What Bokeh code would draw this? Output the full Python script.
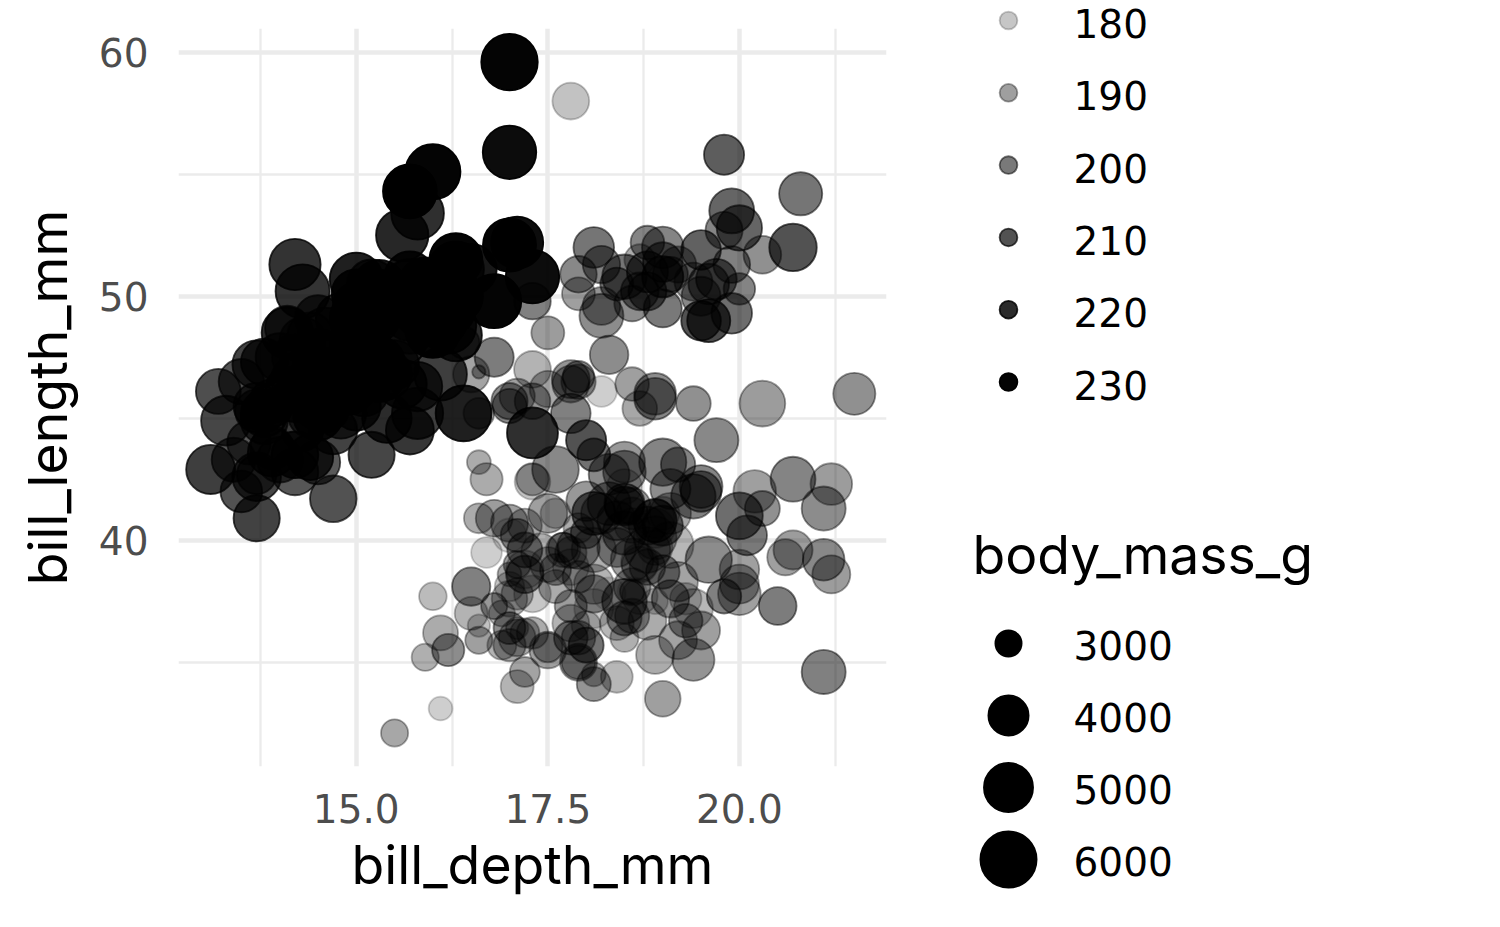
import numpy as np
from bokeh.plotting import figure
from bokeh.layouts import row, column
from bokeh.models import ColumnDataSource, FixedTicker, NumeralTickFormatter, Range1d
from bokeh.core.properties import value
from bokeh.embed import file_html
from bokeh.resources import INLINE

# ---------------- data (Palmer penguins, rows without NA) ----------------
adelie_length = [
    39.1, 39.5, 40.3, 36.7, 39.3, 38.9, 39.2, 34.1, 42.0, 37.8,
    37.8, 41.1, 38.6, 34.6, 36.6, 38.7, 42.5, 34.4, 46.0, 37.8,
    37.7, 35.9, 38.2, 38.8, 35.3, 40.6, 40.5, 37.9, 40.5, 39.5,
    37.2, 39.5, 40.9, 36.4, 39.2, 38.8, 42.2, 37.6, 39.8, 36.5,
    40.8, 36.0, 44.1, 37.0, 39.6, 41.1, 37.5, 36.0, 42.3, 39.6,
    40.1, 35.0, 42.0, 34.5, 41.4, 39.0, 40.6, 36.5, 37.6, 35.7,
    41.3, 37.6, 41.1, 36.4, 41.6, 35.5, 41.1, 35.9, 41.8, 33.5,
    39.7, 39.6, 45.8, 35.5, 42.8, 40.9, 37.2, 36.2, 42.1, 34.6,
    42.9, 36.7, 35.1, 37.3, 41.3, 36.3, 36.9, 38.3, 38.9, 35.7,
    41.1, 34.0, 39.6, 36.2, 40.8, 38.1, 40.3, 33.1, 43.2, 35.0,
    41.0, 37.7, 37.8, 37.9, 39.7, 38.6, 38.2, 38.1, 43.2, 38.1,
    45.6, 39.7, 42.2, 39.6, 42.7, 38.6, 37.3, 35.7, 41.1, 36.2,
    37.7, 40.2, 41.4, 35.2, 40.6, 38.8, 41.5, 39.0, 44.1, 38.5,
    43.1, 36.8, 37.5, 38.1, 41.1, 35.6, 40.2, 37.0, 39.7, 40.2,
    40.6, 32.1, 40.7, 37.3, 39.0, 39.2, 36.6, 36.0, 37.8, 36.0, 41.5,
]
adelie_depth = [
    18.7, 17.4, 18.0, 19.3, 20.6, 17.8, 19.6, 18.1, 20.2, 17.1,
    17.3, 17.6, 21.2, 21.1, 17.8, 19.0, 20.7, 18.4, 21.5, 18.3,
    18.7, 19.2, 18.1, 17.2, 18.9, 18.6, 17.9, 18.6, 18.9, 16.7,
    18.1, 17.8, 18.9, 17.0, 21.1, 20.0, 18.5, 19.3, 19.1, 18.0,
    18.4, 18.5, 19.7, 16.9, 18.8, 19.0, 18.9, 17.9, 21.2, 17.7,
    18.9, 17.9, 19.5, 18.1, 18.6, 17.5, 18.8, 16.6, 19.1, 16.9,
    21.1, 17.0, 18.2, 17.1, 18.0, 16.2, 19.1, 16.6, 19.4, 19.0,
    18.4, 17.2, 18.9, 17.5, 18.5, 16.8, 19.4, 16.1, 19.1, 17.2,
    17.6, 18.8, 19.4, 17.8, 20.3, 19.5, 18.6, 19.2, 18.8, 18.0,
    18.1, 17.1, 18.1, 17.3, 18.9, 18.6, 18.5, 16.1, 18.5, 17.9,
    20.0, 16.0, 20.0, 18.6, 18.9, 17.2, 20.0, 17.0, 19.0, 16.5,
    20.3, 17.7, 19.5, 20.7, 18.3, 17.0, 20.5, 17.0, 18.6, 17.2,
    19.8, 17.0, 18.5, 15.9, 19.0, 17.6, 18.3, 17.1, 18.0, 17.9,
    19.2, 18.5, 18.5, 17.6, 17.5, 17.5, 20.1, 16.5, 17.9, 17.1,
    17.2, 15.5, 17.0, 16.8, 18.7, 18.6, 18.4, 17.8, 18.1, 17.1, 18.5,
]
adelie_flipper = [
    181, 186, 195, 193, 190, 181, 195, 193, 190, 186,
    180, 182, 191, 198, 185, 195, 197, 184, 194, 174,
    180, 189, 185, 180, 187, 183, 187, 172, 180, 178,
    178, 188, 184, 195, 196, 190, 180, 181, 184, 182,
    195, 186, 196, 185, 190, 182, 179, 190, 191, 186,
    188, 190, 200, 187, 191, 186, 193, 181, 194, 185,
    195, 185, 192, 184, 192, 195, 188, 190, 198, 190,
    190, 196, 197, 190, 195, 191, 184, 187, 195, 189,
    196, 187, 193, 191, 194, 190, 189, 189, 190, 202,
    205, 185, 186, 187, 208, 190, 196, 178, 192, 192,
    203, 183, 190, 193, 184, 199, 190, 181, 197, 198,
    191, 193, 197, 191, 196, 188, 199, 189, 189, 187,
    198, 176, 202, 186, 199, 191, 195, 191, 210, 190,
    197, 193, 199, 187, 190, 191, 200, 185, 193, 193,
    187, 188, 190, 192, 185, 190, 184, 195, 193, 187, 201,
]
adelie_mass = [
    3750, 3800, 3250, 3450, 3650, 3625, 4675, 3475, 4250, 3300,
    3700, 3200, 3800, 4400, 3700, 3450, 4500, 3325, 4200, 3400,
    3600, 3800, 3950, 3800, 3800, 3550, 3200, 3150, 3950, 3250,
    3900, 3300, 3900, 3325, 4150, 3950, 3550, 3300, 4650, 3150,
    3900, 3100, 4400, 3000, 4600, 3425, 2975, 3450, 4150, 3500,
    4300, 3450, 4050, 2900, 3700, 3550, 3800, 2850, 3750, 3150,
    4400, 3600, 4050, 2850, 3950, 3350, 4100, 3050, 4450, 3600,
    3900, 3550, 4150, 3700, 4250, 3700, 3900, 3550, 4000, 3200,
    4700, 3800, 4200, 3350, 3550, 3800, 3500, 3950, 3600, 3550,
    4300, 3400, 4450, 3300, 4300, 3700, 4350, 2900, 4100, 3725,
    4725, 3075, 4250, 2925, 3550, 3750, 3900, 3175, 4775, 3825,
    4600, 3200, 4275, 3900, 4075, 2900, 3775, 3350, 3325, 3150,
    3500, 3450, 3875, 3050, 4000, 3275, 4300, 3050, 4000, 3325,
    3500, 3500, 4475, 3425, 3900, 3175, 3975, 3400, 4250, 3400,
    3475, 3050, 3725, 3000, 3650, 4250, 3475, 3450, 3750, 3700, 4000,
]

gentoo_length = [
    46.1, 50.0, 48.7, 50.0, 47.6, 46.5, 45.4, 46.7, 43.3, 46.8,
    40.9, 49.0, 45.5, 48.4, 45.8, 49.3, 42.0, 49.2, 46.2, 48.7,
    50.2, 45.1, 46.5, 46.3, 42.9, 46.1, 44.5, 47.8, 48.2, 50.0,
    47.3, 42.8, 45.1, 59.6, 49.1, 48.4, 42.6, 44.4, 44.0, 48.7,
    42.7, 49.6, 45.3, 49.6, 50.5, 43.6, 45.5, 50.5, 44.9, 45.2,
    46.6, 48.5, 45.1, 50.1, 46.5, 45.0, 43.8, 45.5, 43.2, 50.4,
    45.3, 46.2, 45.7, 54.3, 45.8, 49.8, 46.2, 49.5, 43.5, 50.7,
    47.7, 46.4, 48.2, 46.5, 46.4, 48.6, 47.5, 51.1, 45.2, 45.2,
    49.1, 52.5, 47.4, 50.0, 44.9, 50.8, 43.4, 51.3, 47.5, 52.1,
    47.5, 52.2, 45.5, 49.5, 44.5, 50.8, 49.4, 46.9, 48.4, 51.1,
    48.5, 55.9, 47.2, 49.1, 47.3, 46.8, 41.7, 53.4, 43.3, 48.1,
    50.5, 49.8, 43.5, 51.5, 46.2, 55.1, 44.5, 48.8, 47.2, 46.8,
    50.4, 45.2, 49.9,
]
gentoo_depth = [
    13.2, 16.3, 14.1, 15.2, 14.5, 13.5, 14.6, 15.3, 13.4, 15.4,
    13.7, 16.1, 13.7, 14.6, 14.6, 15.7, 13.5, 15.2, 14.5, 15.1,
    14.3, 14.5, 14.5, 15.8, 13.1, 15.1, 14.3, 15.0, 14.3, 15.3,
    15.3, 14.2, 14.5, 17.0, 14.8, 16.3, 13.7, 17.3, 13.6, 15.7,
    13.7, 16.0, 13.7, 15.0, 15.9, 13.9, 13.9, 15.9, 13.3, 15.8,
    14.2, 14.1, 14.4, 15.0, 14.4, 15.4, 13.9, 15.0, 14.5, 15.3,
    13.8, 14.9, 13.9, 15.7, 14.2, 16.8, 14.4, 16.2, 14.2, 15.0,
    15.0, 15.6, 15.6, 14.8, 15.0, 16.0, 14.2, 16.3, 13.8, 16.4,
    14.5, 15.6, 14.6, 15.9, 13.8, 17.3, 14.4, 14.2, 14.0, 17.0,
    15.0, 17.1, 14.5, 16.1, 14.7, 15.7, 15.8, 14.6, 14.4, 16.5,
    15.0, 17.0, 15.5, 15.0, 13.8, 16.1, 14.7, 15.8, 14.0, 15.1,
    15.2, 15.9, 15.2, 16.3, 14.1, 16.0, 15.7, 16.2, 13.7, 14.3,
    15.7, 14.8, 16.1,
]
gentoo_flipper = [
    211, 230, 210, 218, 215, 210, 211, 219, 209, 215,
    214, 216, 214, 213, 210, 217, 210, 221, 209, 222,
    218, 215, 213, 215, 215, 215, 216, 215, 210, 220,
    222, 209, 207, 230, 220, 220, 213, 219, 208, 208,
    208, 225, 210, 216, 222, 217, 210, 225, 213, 215,
    210, 220, 210, 225, 217, 220, 208, 220, 208, 224,
    208, 221, 214, 231, 219, 230, 214, 229, 220, 223,
    216, 221, 221, 217, 216, 230, 209, 220, 215, 223,
    212, 221, 212, 224, 212, 228, 218, 218, 212, 230,
    218, 228, 212, 224, 214, 226, 216, 222, 203, 225,
    219, 228, 215, 228, 216, 215, 210, 219, 208, 209,
    216, 229, 213, 230, 217, 230, 217, 222, 214, 215,
    222, 212, 213,
]
gentoo_mass = [
    4500, 5700, 4450, 5700, 5400, 4550, 4800, 5200, 4400, 5150,
    4650, 5550, 4650, 5850, 4200, 5850, 4150, 6300, 4800, 5350,
    5700, 5000, 4400, 5050, 5000, 5100, 4100, 5650, 4600, 5550,
    5250, 4700, 5050, 6050, 5150, 5400, 4950, 5250, 4350, 5350,
    3950, 5700, 4300, 4750, 5550, 4900, 4200, 5400, 5100, 5300,
    4850, 5300, 4400, 5000, 4900, 5050, 4300, 5000, 4450, 5550,
    4200, 5300, 4400, 5650, 4700, 5700, 4650, 5800, 4700, 5550,
    4750, 5000, 5100, 5200, 4700, 5800, 4600, 6000, 4750, 5950,
    4625, 5450, 4725, 5350, 4750, 5600, 4600, 5300, 4875, 5550,
    4950, 5400, 4750, 5650, 4850, 5200, 4925, 4875, 4625, 5250,
    4850, 5600, 4975, 5500, 4725, 5500, 4700, 5500, 4575, 5500,
    5000, 5950, 4650, 5500, 4375, 5850, 4875, 6000, 4925, 4850,
    5750, 5200, 5400,
]

chinstrap_length = [
    46.5, 50.0, 51.3, 45.4, 52.7, 45.2, 46.1, 51.3, 46.0, 51.3,
    46.6, 51.7, 47.0, 52.0, 45.9, 50.5, 50.3, 58.0, 46.4, 49.2,
    42.4, 48.5, 43.2, 50.6, 46.7, 52.0, 50.5, 49.5, 46.4, 52.8,
    40.9, 54.2, 42.5, 51.0, 49.7, 47.5, 47.6, 52.0, 46.9, 53.5,
    49.0, 46.2, 50.9, 45.5, 50.9, 50.8, 50.1, 49.0, 51.5, 49.8,
    48.1, 51.4, 45.7, 50.7, 42.5, 52.2, 45.2, 49.3, 50.2, 45.6,
    51.9, 46.8, 45.7, 55.8, 43.5, 49.6, 50.8, 50.2,
]
chinstrap_depth = [
    17.9, 19.5, 19.2, 18.7, 19.8, 17.8, 18.2, 18.2, 18.9, 19.9,
    17.8, 20.3, 17.3, 18.1, 17.1, 19.6, 20.0, 17.8, 18.6, 18.2,
    17.3, 17.5, 16.6, 19.4, 17.9, 19.0, 18.4, 19.0, 17.8, 20.0,
    16.6, 20.8, 16.7, 18.8, 18.6, 16.8, 18.3, 20.7, 16.6, 19.9,
    19.5, 17.5, 19.1, 17.0, 17.9, 18.5, 17.9, 19.6, 18.7, 17.3,
    16.4, 19.0, 17.3, 19.7, 17.3, 18.8, 16.6, 19.9, 18.8, 19.4,
    19.5, 16.5, 17.0, 19.8, 18.1, 18.2, 19.0, 18.7,
]
chinstrap_flipper = [
    192, 196, 193, 188, 197, 198, 178, 197, 195, 198,
    193, 194, 185, 201, 190, 201, 197, 181, 190, 195,
    181, 191, 187, 193, 195, 197, 200, 200, 191, 205,
    187, 201, 187, 203, 195, 199, 195, 210, 192, 205,
    210, 187, 196, 196, 196, 201, 190, 212, 187, 198,
    199, 201, 193, 203, 187, 197, 191, 203, 202, 194,
    206, 189, 195, 207, 202, 193, 210, 198,
]
chinstrap_mass = [
    3500, 3900, 3650, 3525, 3725, 3950, 3250, 3750, 4150, 3700,
    3800, 3775, 3700, 4050, 3575, 4050, 3300, 3700, 3450, 4400,
    3600, 3400, 2900, 3800, 3300, 4150, 3400, 3800, 3700, 4550,
    3200, 4300, 3350, 4100, 3600, 3900, 3850, 4800, 2700, 4500,
    3950, 3650, 3550, 3500, 3675, 4450, 3400, 4300, 3250, 3675,
    3325, 3950, 3600, 4050, 3350, 3450, 3250, 4050, 3800, 3525,
    3950, 3650, 3650, 4000, 3400, 3775, 4100, 3775,
]

x_ticks = [15.0, 17.5, 20.0]
x_minor = [13.75, 16.25, 18.75, 21.25]
y_ticks = [40, 50, 60]
y_minor = [35, 45, 55]
flipper_breaks = [180, 190, 200, 210, 220, 230]
mass_breaks = [3000, 4000, 5000, 6000]
size_title = "body_mass_g"

# ---------------- scales (ggplot-like) ----------------
depth = np.array(adelie_depth + gentoo_depth + chinstrap_depth, dtype=float)
length = np.array(adelie_length + gentoo_length + chinstrap_length, dtype=float)
flipper = np.array(adelie_flipper + gentoo_flipper + chinstrap_flipper, dtype=float)
mass = np.array(adelie_mass + gentoo_mass + chinstrap_mass, dtype=float)
n = min(len(depth), len(length), len(flipper), len(mass))
depth, length, flipper, mass = depth[:n], length[:n], flipper[:n], mass[:n]

f_lo, f_hi = flipper.min(), flipper.max()
m_lo, m_hi = mass.min(), mass.max()

def alpha_of(f):
    return 0.1 + 0.9 * (np.asarray(f, float) - f_lo) / (f_hi - f_lo)

LW = 1.8
def diam_of(m):
    s = 1 + 5 * np.sqrt(np.clip((np.asarray(m, float) - m_lo) / (m_hi - m_lo), 0, 1))
    return 8.96 * s + 6.1 - LW

xr = depth.max() - depth.min()
yr = length.max() - length.min()

TITLE_FONT = "Inter"
TICK_FONT = "DejaVu Sans"
TICK_FS = "39px"
TITLE_FS = "53.5px"

p = figure(
    title=None,
    frame_width=708, frame_height=738,
    min_border_left=178, min_border_top=28, min_border_right=22, min_border_bottom=153,
    x_range=Range1d(depth.min() - 0.05 * xr, depth.max() + 0.05 * xr),
    y_range=Range1d(length.min() - 0.05 * yr, length.max() + 0.05 * yr),
    output_backend="svg", toolbar_location=None,
    x_axis_label="bill_depth_mm", y_axis_label="bill_length_mm",
)
p.outline_line_color = None
p.background_fill_color = "white"
p.border_fill_color = "white"

p.xaxis.ticker = FixedTicker(ticks=x_ticks, minor_ticks=x_minor)
p.yaxis.ticker = FixedTicker(ticks=y_ticks, minor_ticks=y_minor)
p.xaxis.formatter = NumeralTickFormatter(format="0.0")
for ax in (p.xaxis, p.yaxis):
    ax.axis_line_color = None
    ax.major_tick_line_color = None
    ax.minor_tick_line_color = None
    ax.major_label_text_font = TICK_FONT
    ax.major_label_text_font_size = TICK_FS
    ax.major_label_text_color = "#4D4D4D"
    ax.axis_label_text_font = TITLE_FONT
    ax.axis_label_text_font_size = TITLE_FS
    ax.axis_label_text_font_style = "normal"
    ax.axis_label_text_color = "black"
p.xaxis.major_label_standoff = 21
p.xaxis.axis_label_standoff = 6
p.yaxis.major_label_standoff = 24
p.yaxis.axis_label_standoff = 16

for g in (p.xgrid, p.ygrid):
    g.grid_line_color = "#EBEBEB"
    g.grid_line_width = 4.5
    g.minor_grid_line_color = "#EBEBEB"
    g.minor_grid_line_width = 2.3

src = ColumnDataSource(dict(x=depth, y=length, a=alpha_of(flipper), s=diam_of(mass)))
p.scatter("x", "y", source=src, size="s", marker="circle",
          fill_color="black", line_color="black", fill_alpha="a", line_alpha="a",
          line_width=LW)

# ---------------- legend panel ----------------
LEG_W, LEG_H = 584, 919
lg = figure(title=None, frame_width=LEG_W, frame_height=LEG_H, min_border=0,
            x_range=Range1d(0, LEG_W), y_range=Range1d(LEG_H, 0),
            output_backend="svg", toolbar_location=None)
lg.axis.visible = False
lg.grid.visible = False
lg.outline_line_color = None
lg.background_fill_color = "white"
lg.border_fill_color = "white"

KEY_X, LAB_X, STEP = 100, 165, 72.3
a_y = [20 + STEP * i for i in range(len(flipper_breaks))]
a_src = ColumnDataSource(dict(x=[KEY_X] * len(flipper_breaks), y=a_y,
                              a=alpha_of(flipper_breaks),
                              t=[str(b) for b in flipper_breaks]))
lg.scatter("x", "y", source=a_src, size=8.96 * 1.5 + 6.1 - LW, marker="circle",
           fill_color="black", line_color="black", fill_alpha="a", line_alpha="a",
           line_width=LW)
lg.text(x=LAB_X, y="y", text="t", source=a_src, text_font=value(TICK_FONT),
        text_font_size=TICK_FS, text_baseline="middle", text_align="left",
        text_color="black", y_offset=3)

m_y = [643 + 72 * i for i in range(len(mass_breaks))]
m_src = ColumnDataSource(dict(x=[KEY_X] * len(mass_breaks), y=m_y,
                              s=diam_of(mass_breaks),
                              t=[str(b) for b in mass_breaks]))
lg.scatter("x", "y", source=m_src, size="s", marker="circle",
           fill_color="black", line_color="black", line_width=LW)
lg.text(x=LAB_X, y="y", text="t", source=m_src, text_font=value(TICK_FONT),
        text_font_size=TICK_FS, text_baseline="middle", text_align="left",
        text_color="black", y_offset=2)
lg.text(x=[64], y=[554], text=[size_title], text_font=value(TITLE_FONT),
        text_font_size=TITLE_FS, text_baseline="middle", text_align="left",
        text_color="black")

layout = row(p, column(lg, spacing=0), spacing=0)
open("out.html", "w").write(file_html(layout, INLINE))
